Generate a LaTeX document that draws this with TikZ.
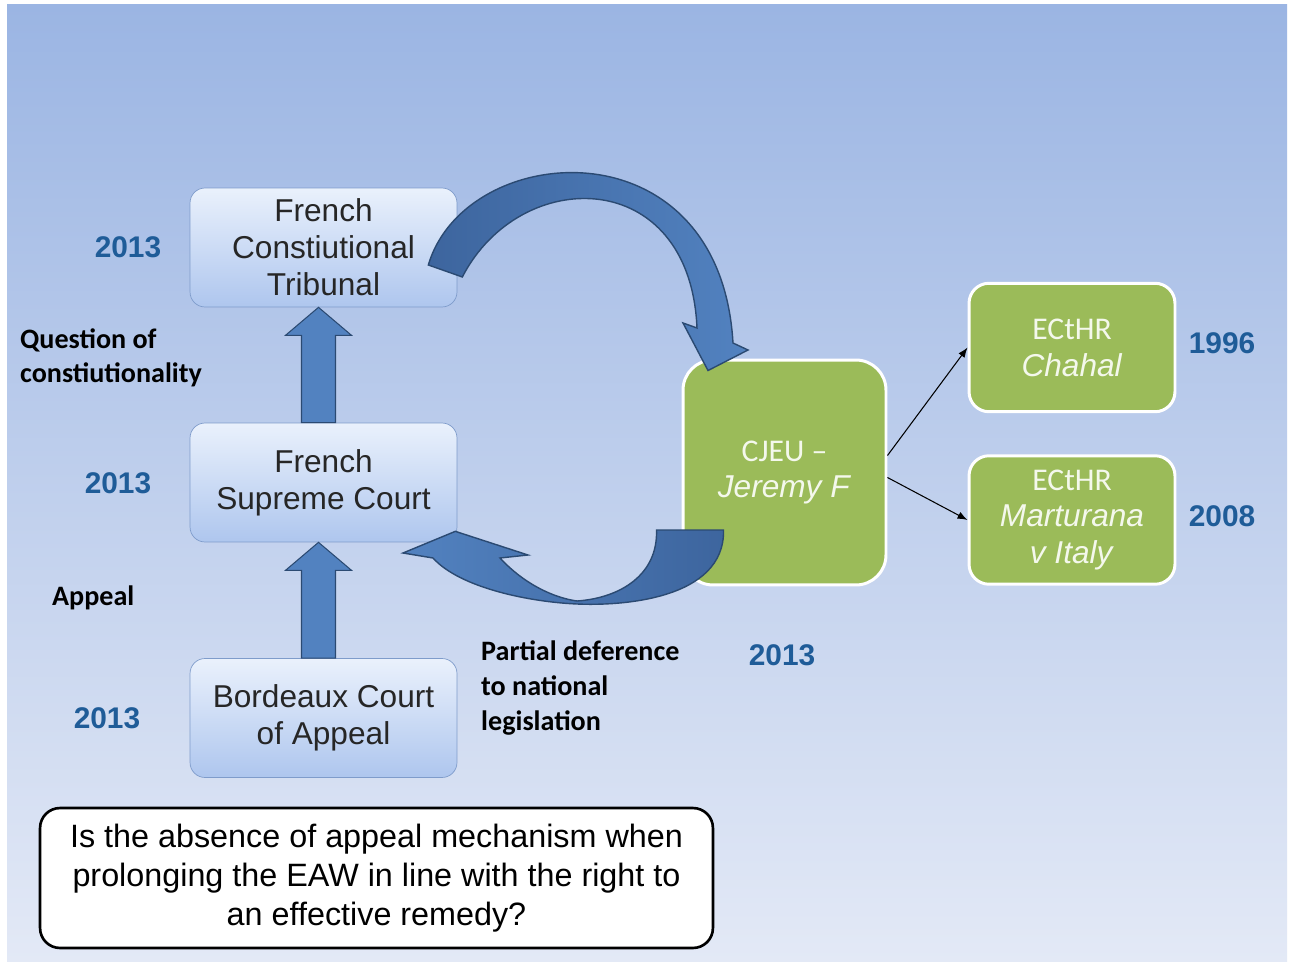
\documentclass[tikz,border=0pt]{standalone}
\usepackage{fontspec}
\setmainfont{Liberation Sans}
\newfontfamily\calfont{Carlito}
\usetikzlibrary{calc,positioning,arrows.meta}
\definecolor{bgtop}{HTML}{9BB5E3}
\definecolor{bgbot}{HTML}{E3E9F6}
\definecolor{courttop}{HTML}{EAF1FC}
\definecolor{courtbot}{HTML}{AEC6EE}
\definecolor{courtline}{HTML}{7F9CCB}
\definecolor{echrgreen}{HTML}{9BBB59}
\definecolor{echrtext}{HTML}{F4F8EC}
\definecolor{yearblue}{HTML}{1F5C98}
\definecolor{arrowblue}{HTML}{5282C0}
\definecolor{arrowdark}{HTML}{3D659E}
\definecolor{arrowline}{HTML}{2B4A72}

\begin{document}
\begin{tikzpicture}[x=0.02cm,y=-0.02cm,
	court/.style={draw=courtline,rounded corners=0.3cm,top color=courttop,bottom color=courtbot,minimum width=5.34cm,minimum height=2.38cm,align=center,text=black!85,font=\fontsize{18}{21}\selectfont},
	echr/.style={draw=white,line width=1.7pt,fill=echrgreen,rounded corners=0.4cm,minimum width=4.12cm,minimum height=2.57cm,align=center,text=echrtext,font=\fontsize{18}{21}\selectfont},
	year/.style={text=yearblue,font=\bfseries\fontsize{17}{20}\selectfont},
	lbl/.style={anchor=west,align=left,font=\calfont\bfseries\fontsize{16}{19.5}\selectfont},
	loopband/.style={draw=arrowline,line width=0.8pt},
	uparrow/.style={fill=arrowblue,draw=arrowline,line width=0.6pt},
	link/.style={-{Latex[length=0.2cm,width=0.15cm]},line width=0.6pt}]
	%background
	\useasboundingbox (0,0) rectangle (1290,962);
	\fill[white] (0,0) rectangle (1290,962);
	\shade[top color=bgtop,bottom color=bgbot] (7,5) rectangle (1287,962);
	
	%courts
	\node[court] (fct) at (323.5,247.5) {French\\Constiutional\\Tribunal};
	\node[court] (fsc) at (323.5,482.5) {French\\Supreme Court};
	\node[court] (bca) at (323.5,718) {Bordeaux Court\\of Appeal};
	%
	\node[echr,minimum width=4.06cm,minimum height=4.5cm,rounded corners=0.6cm] (cjeu) at (784.5,472.5) {{\calfont CJEU –}\\\textit{Jeremy F}};
	\node[echr] (chahal) at (1072,347.5) {{\calfont ECtHR}\\\textit{Chahal}};
	\node[echr] (martur) at (1072,520) {{\calfont ECtHR}\\\textit{Marturana}\\\textit{v Italy}};
	
	%question
	\node[draw=black,line width=1.5pt,fill=white,rounded corners=0.4cm,minimum width=13.46cm,minimum height=2.8cm,align=center,font=\fontsize{18.4}{22}\selectfont] (quest) at (376.5,878) {Is the absence of appeal mechanism when\\prolonging the EAW in line with the right to\\an effective remedy?};
	
	%up arrows
	\filldraw[uparrow] ($(fsc.north)+(-22,0)$) -- ($(fct.south)+(-22,28)$) -- ($(fct.south)+(-38,28)$) -- ($(fct.south)+(-5,0)$) -- ($(fct.south)+(28,28)$) -- ($(fct.south)+(12,28)$) -- ($(fsc.north)+(12,0)$) -- cycle;
	\filldraw[uparrow] ($(bca.north)+(-22,0)$) -- ($(fsc.south)+(-22,28)$) -- ($(fsc.south)+(-38,28)$) -- ($(fsc.south)+(-5,0)$) -- ($(fsc.south)+(28,28)$) -- ($(fsc.south)+(12,28)$) -- ($(bca.north)+(12,0)$) -- cycle;
	
	%curved arrows
	\shadedraw[loopband,left color=arrowdark,right color=arrowblue] ($(fct.east)+(-29,17.5)$) .. controls (465,140) and (720,120) .. (733,343) -- (748,350) -- ($(cjeu.north)+(-76.5,12)$) -- (683,323) -- (697,328) .. controls (690,165) and (520,165) .. ($(fct.east)+(5,29.5)$) -- cycle;
	\shadedraw[loopband,left color=arrowblue,right color=arrowdark] ($(cjeu.west)+(-25,57.5)$) -- ($(cjeu.west)+(42,57.5)$) .. controls (725,600) and (620,606) .. (577,604) .. controls (530,602) and (460,588) .. (433,558) -- (403,553) -- ($(fsc.south east)+(-2,-11)$) -- (528,555) -- (500,558) .. controls (525,585) and (555,598) .. (577,601) .. controls (620,598) and (658,575) .. ($(cjeu.west)+(-25,57.5)$) -- cycle;
	
	%links
	\draw[link] ($(cjeu.east)+(0,-17)$) -- (chahal.west);
	\draw[link] ($(cjeu.east)+(0,5)$) -- (martur.west);
	
	%years
	\node[year] (y1) at (128,247) {2013};
	\node[year] (y2) at (118,483) {2013};
	\node[year] (y3) at (107,718) {2013};
	\node[year] (y4) at (782,655) {2013};
	\node[year] (y5) at (1222,343) {1996};
	\node[year] (y6) at (1222,516) {2008};
	
	%labels
	\node[lbl] (qcon) at (14,358) {Question of\\constiutionality};
	\node[lbl] (appeal) at (46,598) {Appeal};
	\node[lbl,font=\calfont\bfseries\fontsize{16}{20}\selectfont] (partial) at (475,688) {Partial deference\\to national\\legislation};
\end{tikzpicture}
\end{document}
